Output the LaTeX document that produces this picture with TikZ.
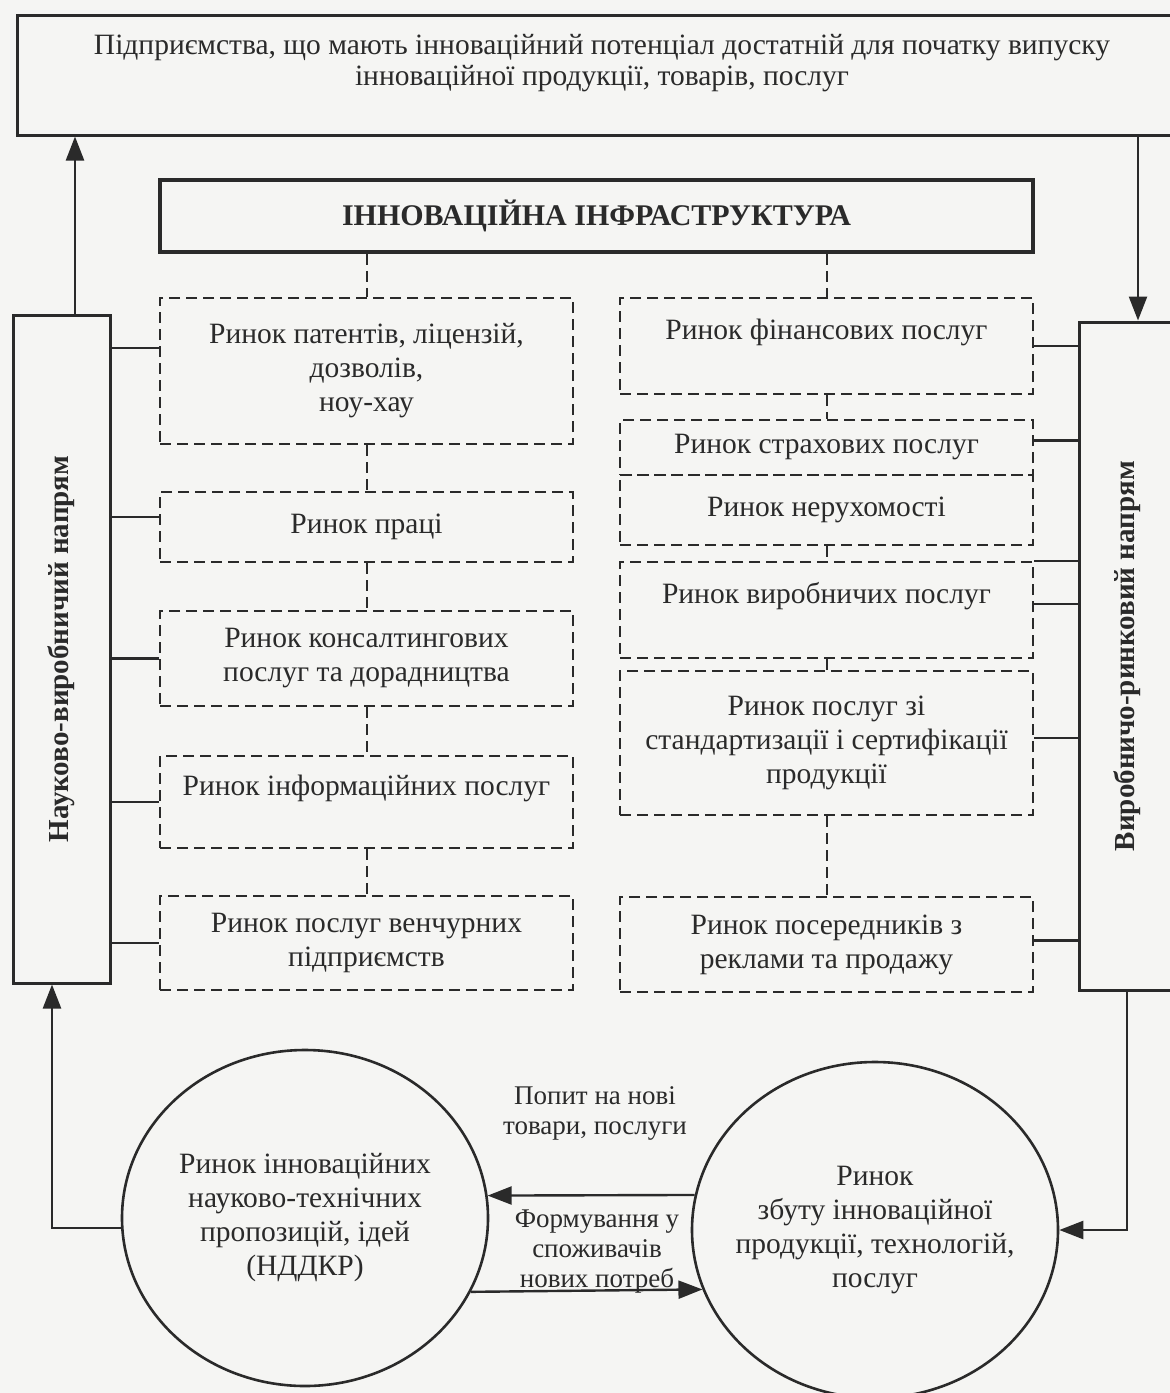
\documentclass[tikz,border=0pt]{standalone}
\usepackage{graphicx}
\usepackage{fontspec}
\setmainfont{Liberation Serif}
\usetikzlibrary{arrows.meta,shapes.geometric}
\definecolor{ink}{HTML}{2A2A2A}
\definecolor{paper}{HTML}{F5F5F3}

\begin{document}
\begin{tikzpicture}[x=1pt,y=-1pt,
		every node/.style={align=center,text=ink,font=\fontsize{29.5pt}{34pt}\selectfont},
		nbox/.style={draw=ink,line width=3pt},
		dbox/.style={draw=ink,line width=2.2pt,dash pattern=on 11pt off 6pt,minimum width=413pt},
		mkt/.style={ellipse,draw=ink,line width=2.6pt,inner xsep=-60pt,minimum width=366pt,minimum height=336pt},
		link/.style={draw=ink,line width=2.4pt},
		dlink/.style={link,line width=2pt,dash pattern=on 11pt off 6pt},
		arr/.style={link,-{Triangle[length=24pt,width=18pt]}}]
	\fill[paper] (0,0) rectangle (1170,1393);
	\useasboundingbox (0,0) rectangle (1170,1393);

	\node[nbox,minimum width=1170pt,minimum height=120pt,font=\fontsize{29.5pt}{31pt}\selectfont] (top) at (602,75) {Підприємства, що мають інноваційний потенціал достатній для початку випуску\\інноваційної продукції, товарів, послуг\\~};
	\node[nbox,line width=3.5pt,minimum width=873pt,minimum height=72pt,font=\bfseries\fontsize{30pt}{31pt}\selectfont] (infra) at (596.5,216) {ІННОВАЦІЙНА ІНФРАСТРУКТУРА};

	\node[nbox,minimum width=97pt,minimum height=668pt,font=\bfseries\fontsize{29pt}{33pt}\selectfont] (sci) at (61.5,649) {\rotatebox{90}{Науково-виробничий напрям}};
	\node[nbox,minimum width=96pt,minimum height=668pt,font=\bfseries\fontsize{29pt}{33pt}\selectfont] (ind) at (1127,656) {\rotatebox{90}{Виробничо-ринковий напрям}};

	\node[dbox,minimum height=146pt] (pat) at (366.5,371) {Ринок патентів, ліцензій,\\дозволів,\\ноу-хау};
	\node[dbox,minimum height=70pt] (lab) at (366.5,527) {Ринок праці};
	\node[dbox,minimum height=95pt] (con) at (366.5,658.5) {Ринок консалтингових\\послуг та дорадництва};
	\node[dbox,minimum height=92pt] (inf) at (366.5,802) {Ринок інформаційних послуг\\~};
	\node[dbox,minimum height=94pt] (ven) at (366.5,943) {Ринок послуг венчурних\\підприємств};

	\node[dbox,minimum height=96pt] (fin) at (826.5,346) {Ринок фінансових послуг\\~};
	\node[dbox,minimum height=55pt] (ins) at (826.5,447.5) {Ринок страхових послуг};
	\node[dbox,minimum height=70pt] (est) at (826.5,510) {Ринок нерухомості};
	\node[dbox,minimum height=96pt] (prd) at (826.5,610) {Ринок виробничих послуг\\~};
	\node[dbox,minimum height=144pt] (std) at (826.5,743) {Ринок послуг зі\\стандартизації і сертифікації\\продукції};
	\node[dbox,minimum height=95pt] (agt) at (826.5,944.5) {Ринок посередників з\\реклами та продажу};

	\node[mkt] (rnd) at (305,1218) {Ринок інноваційних\\науково-технічних\\пропозицій, ідей\\(НДДКР)};
	\node[mkt] (sal) at (875,1230) {Ринок\\збуту інноваційної\\продукції, технологій,\\послуг};

	\node[font=\fontsize{27pt}{30pt}\selectfont] (dem) at (595,1113) {Попит на нові\\товари, послуги};
	\node[font=\fontsize{27pt}{30pt}\selectfont] (need) at (597,1252) {Формування у\\споживачів\\нових потреб};

	\draw[dlink] (infra.south -| pat.north) -- (pat.north);
	\draw[dlink] (pat.south) -- (lab.north);
	\draw[dlink] (lab.south) -- (con.north);
	\draw[dlink] (con.south) -- (inf.north);
	\draw[dlink] (inf.south) -- (ven.north);
	\draw[dlink] (infra.south -| fin.north) -- (fin.north);
	\draw[dlink] (fin.south) -- (ins.north);
	\draw[dlink] (est.south) -- (prd.north);
	\draw[dlink] (prd.south) -- (std.north);
	\draw[dlink] (std.south) -- (agt.north);

	\draw[link] ([yshift=23pt]pat.west) -- ([yshift=23pt]pat.west -| sci.east);
	\draw[link] ([yshift=10pt]lab.west) -- ([yshift=10pt]lab.west -| sci.east);
	\draw[link] (con.west) -- (con.west -| sci.east);
	\draw[link] (inf.west) -- (inf.west -| sci.east);
	\draw[link] (ven.west) -- (ven.west -| sci.east);

	\draw[link] (fin.east) -- (fin.east -| ind.west);
	\draw[link] ([yshift=7pt]ins.east) -- ([yshift=7pt]ins.east -| ind.west);
	\draw[link] (prd.north east) -- (prd.north east -| ind.west);
	\draw[link] ([yshift=6pt]prd.east) -- ([yshift=6pt]prd.east -| ind.west);
	\draw[link] ([yshift=5pt]std.east) -- ([yshift=5pt]std.east -| ind.west);
	\draw[link] ([yshift=4pt]agt.east) -- ([yshift=4pt]agt.east -| ind.west);

	\draw[arr] ([xshift=13.5pt]sci.north) -- ([xshift=13.5pt]sci.north |- top.south);
	\draw[arr] ([xshift=11pt]ind.north |- top.south) -- ([xshift=11pt]ind.north);
	\draw[arr] ([yshift=-10pt]rnd.west) -| ([xshift=-9.5pt]sci.south);
	\draw[arr] (ind.south) |- (sal.east);
	\draw[arr] (sal.169) -- (rnd.7);
	\draw[arr] (rnd.336) -- (sal.199);
\end{tikzpicture}
\end{document}
